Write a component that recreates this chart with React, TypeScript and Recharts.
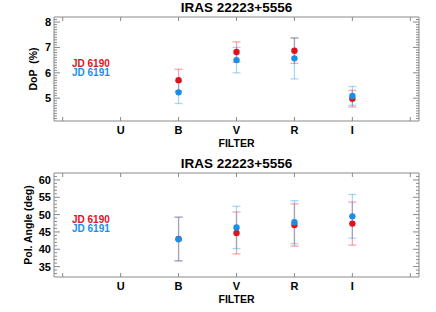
import React from 'react';
import { ComposedChart, Scatter, ErrorBar, XAxis, YAxis } from 'recharts';

const TITLE = 'IRAS 22223+5556';
const FILTERS = ['U', 'B', 'V', 'R', 'I'];
const OBS_FILTERS = ['B', 'V', 'R', 'I'];
const X_TICKS = [-1, 0, 1, 2, 3, 4, 5];

const DOP_6190 = [5.71, 6.82, 6.87, 4.98];
const DOP_6190_ERR = [0.43, 0.4, 0.5, 0.33];
const DOP_6191 = [5.23, 6.5, 6.57, 5.09];
const DOP_6191_ERR = [0.44, 0.5, 0.81, 0.37];

const PA_6190 = [43.0, 44.7, 47.0, 47.4];
const PA_6190_ERR = [6.3, 6.05, 6.1, 6.2];
const PA_6191 = [42.9, 46.3, 47.8, 49.5];
const PA_6191_ERR = [6.3, 6.1, 6.2, 6.3];

// minor tick positions on the y axes
const DOP_MINOR = Array.from({ length: 40 }, (_, i) => Math.round(42 + i) / 10); // 4.2 .. 8.1
const PA_MINOR = Array.from({ length: 29 }, (_, i) => 33 + i); // 33 .. 61

const RED = '#e3101e';
const BLUE = '#1a8fe6';
const RED_ERR = 'rgba(232, 30, 45, 0.38)';
const BLUE_ERR = 'rgba(30, 150, 235, 0.38)';
const AXIS = '#8a8a8a';
const FONT = '"Liberation Sans", Arial, Helvetica, sans-serif';

const W = 436;
const H = 156;
const LEFT = 54;
const RIGHT = 17;
const TOP = 17;
const BOTTOM = 35;
const X_MARGIN = 5;

const makeTable = (vals: number[], errs: number[]) =>
  OBS_FILTERS.map((f, i) => ({ x: FILTERS.indexOf(f), y: vals[i], err: errs[i] }));

const dot = (color: string) => (p: any) => <circle cx={p.cx} cy={p.cy} r={3.2} fill={color} />;

function leftTick(isMajor: (v: number) => boolean) {
  return (props: any) => {
    const { x, y, payload } = props;
    const major = isMajor(payload.value);
    const ax = x + 3;
    return (
      <g>
        <line x1={ax} x2={ax + (major ? 6 : 3)} y1={y} y2={y} stroke={AXIS} />
        {major && (
          <text x={x} y={y} dy="0.36em" textAnchor="end" fontFamily={FONT} fontWeight="bold" fontSize={11} fill="#000">
            {Math.round(payload.value)}
          </text>
        )}
      </g>
    );
  };
}

function rightTick(isMajor: (v: number) => boolean) {
  return (props: any) => {
    const { x, y, payload } = props;
    const len = isMajor(payload.value) ? 6 : 3;
    return <line x1={x} x2={x - len} y1={y} y2={y} stroke={AXIS} />;
  };
}

const bottomTick = (props: any) => {
  const { x, y, payload } = props;
  const ay = y - X_MARGIN;
  const label = FILTERS[payload.value] ?? '';
  return (
    <g>
      <line x1={x} x2={x} y1={ay} y2={ay - 4} stroke={AXIS} />
      <text x={x} y={y} dy="0.71em" textAnchor="middle" fontFamily={FONT} fontWeight="bold" fontSize={11} fill="#000">
        {label}
      </text>
    </g>
  );
};

const topTick = (props: any) => {
  const { x, y } = props;
  return <line x1={x} x2={x} y1={y} y2={y + 4} stroke={AXIS} />;
};

interface PanelProps {
  yLabel: string;
  yLabelX: number;
  domain: [number, number];
  ticks: number[];
  majorStep: number;
  red: number[];
  redErr: number[];
  blue: number[];
  blueErr: number[];
}

function Panel({ yLabel, yLabelX, domain, ticks, majorStep, red, redErr, blue, blueErr }: PanelProps) {
  const isMajor = (v: number) => Math.abs(v / majorStep - Math.round(v / majorStep)) < 1e-6;
  const plotCx = LEFT + (W - LEFT - RIGHT) / 2;
  const plotCy = TOP + (H - TOP - BOTTOM) / 2;
  const text: React.CSSProperties = { position: 'absolute', fontFamily: FONT, fontWeight: 'bold', whiteSpace: 'pre' };

  return (
    <div style={{ position: 'relative', width: W, height: H }}>
      <ComposedChart width={W} height={H} margin={{ top: TOP - 1, right: RIGHT - 1, bottom: 0, left: 0 }}>
        <XAxis
          xAxisId="b"
          type="number"
          dataKey="x"
          domain={[-1.15, 5.15]}
          ticks={X_TICKS}
          interval={0}
          height={BOTTOM}
          tickSize={0}
          tickMargin={X_MARGIN}
          tick={bottomTick}
          stroke={AXIS}
          allowDataOverflow
        />
        <XAxis
          xAxisId="t"
          orientation="top"
          type="number"
          dataKey="x"
          domain={[-1.15, 5.15]}
          ticks={X_TICKS}
          interval={0}
          height={1}
          tickSize={0}
          tickMargin={0}
          tick={topTick}
          stroke={AXIS}
          allowDataOverflow
        />
        <YAxis
          yAxisId="l"
          type="number"
          domain={domain}
          ticks={ticks}
          interval={0}
          width={LEFT}
          tickSize={0}
          tickMargin={3}
          tick={leftTick(isMajor)}
          stroke={AXIS}
          allowDataOverflow
        />
        <YAxis
          yAxisId="r"
          orientation="right"
          type="number"
          dataKey="y"
          domain={domain}
          ticks={ticks}
          interval={0}
          width={1}
          tickSize={0}
          tickMargin={0}
          tick={rightTick(isMajor)}
          stroke={AXIS}
          allowDataOverflow
        />
        <Scatter xAxisId="b" yAxisId="l" data={makeTable(red, redErr)} dataKey="y" shape={dot(RED)} isAnimationActive={false}>
          <ErrorBar dataKey="err" direction="y" width={4} stroke={RED_ERR} strokeWidth={1.3} isAnimationActive={false} />
        </Scatter>
        <Scatter xAxisId="b" yAxisId="l" data={makeTable(blue, blueErr)} dataKey="y" shape={dot(BLUE)} isAnimationActive={false}>
          <ErrorBar dataKey="err" direction="y" width={4} stroke={BLUE_ERR} strokeWidth={1.3} isAnimationActive={false} />
        </Scatter>
        {/* empty series so the mirrored top/right axes get drawn */}
        <Scatter xAxisId="t" yAxisId="r" data={[]} dataKey="y" isAnimationActive={false} />
      </ComposedChart>

      <div style={{ ...text, left: LEFT, width: W - LEFT - RIGHT, top: 0, textAlign: 'center', fontSize: 13.5, lineHeight: '16px' }}>
        {TITLE}
      </div>
      <div style={{ ...text, left: 72, top: 58.5, fontSize: 10, lineHeight: '9px', color: RED }}>JD 6190</div>
      <div style={{ ...text, left: 72, top: 68, fontSize: 10, lineHeight: '9px', color: BLUE }}>JD 6191</div>
      <div style={{ ...text, left: yLabelX, top: plotCy, fontSize: 10.5, lineHeight: '12px', transform: 'translate(-50%, -50%) rotate(-90deg)' }}>
        {yLabel}
      </div>
      <div style={{ ...text, left: plotCx, top: 142.5, fontSize: 10.5, lineHeight: '12px', transform: 'translate(-50%, -50%)' }}>
        FILTER
      </div>
    </div>
  );
}

export default function App() {
  return (
    <div style={{ position: 'absolute', left: 0, top: 0, width: W, height: 2 * H, background: '#fff' }}>
      <Panel
        yLabel="DoP  (%)"
        yLabelX={33}
        domain={[4.1, 8.2]}
        ticks={DOP_MINOR}
        majorStep={1}
        red={DOP_6190}
        redErr={DOP_6190_ERR}
        blue={DOP_6191}
        blueErr={DOP_6191_ERR}
      />
      <Panel
        yLabel="Pol. Angle (deg)"
        yLabelX={28}
        domain={[32, 62]}
        ticks={PA_MINOR}
        majorStep={5}
        red={PA_6190}
        redErr={PA_6190_ERR}
        blue={PA_6191}
        blueErr={PA_6191_ERR}
      />
    </div>
  );
}
